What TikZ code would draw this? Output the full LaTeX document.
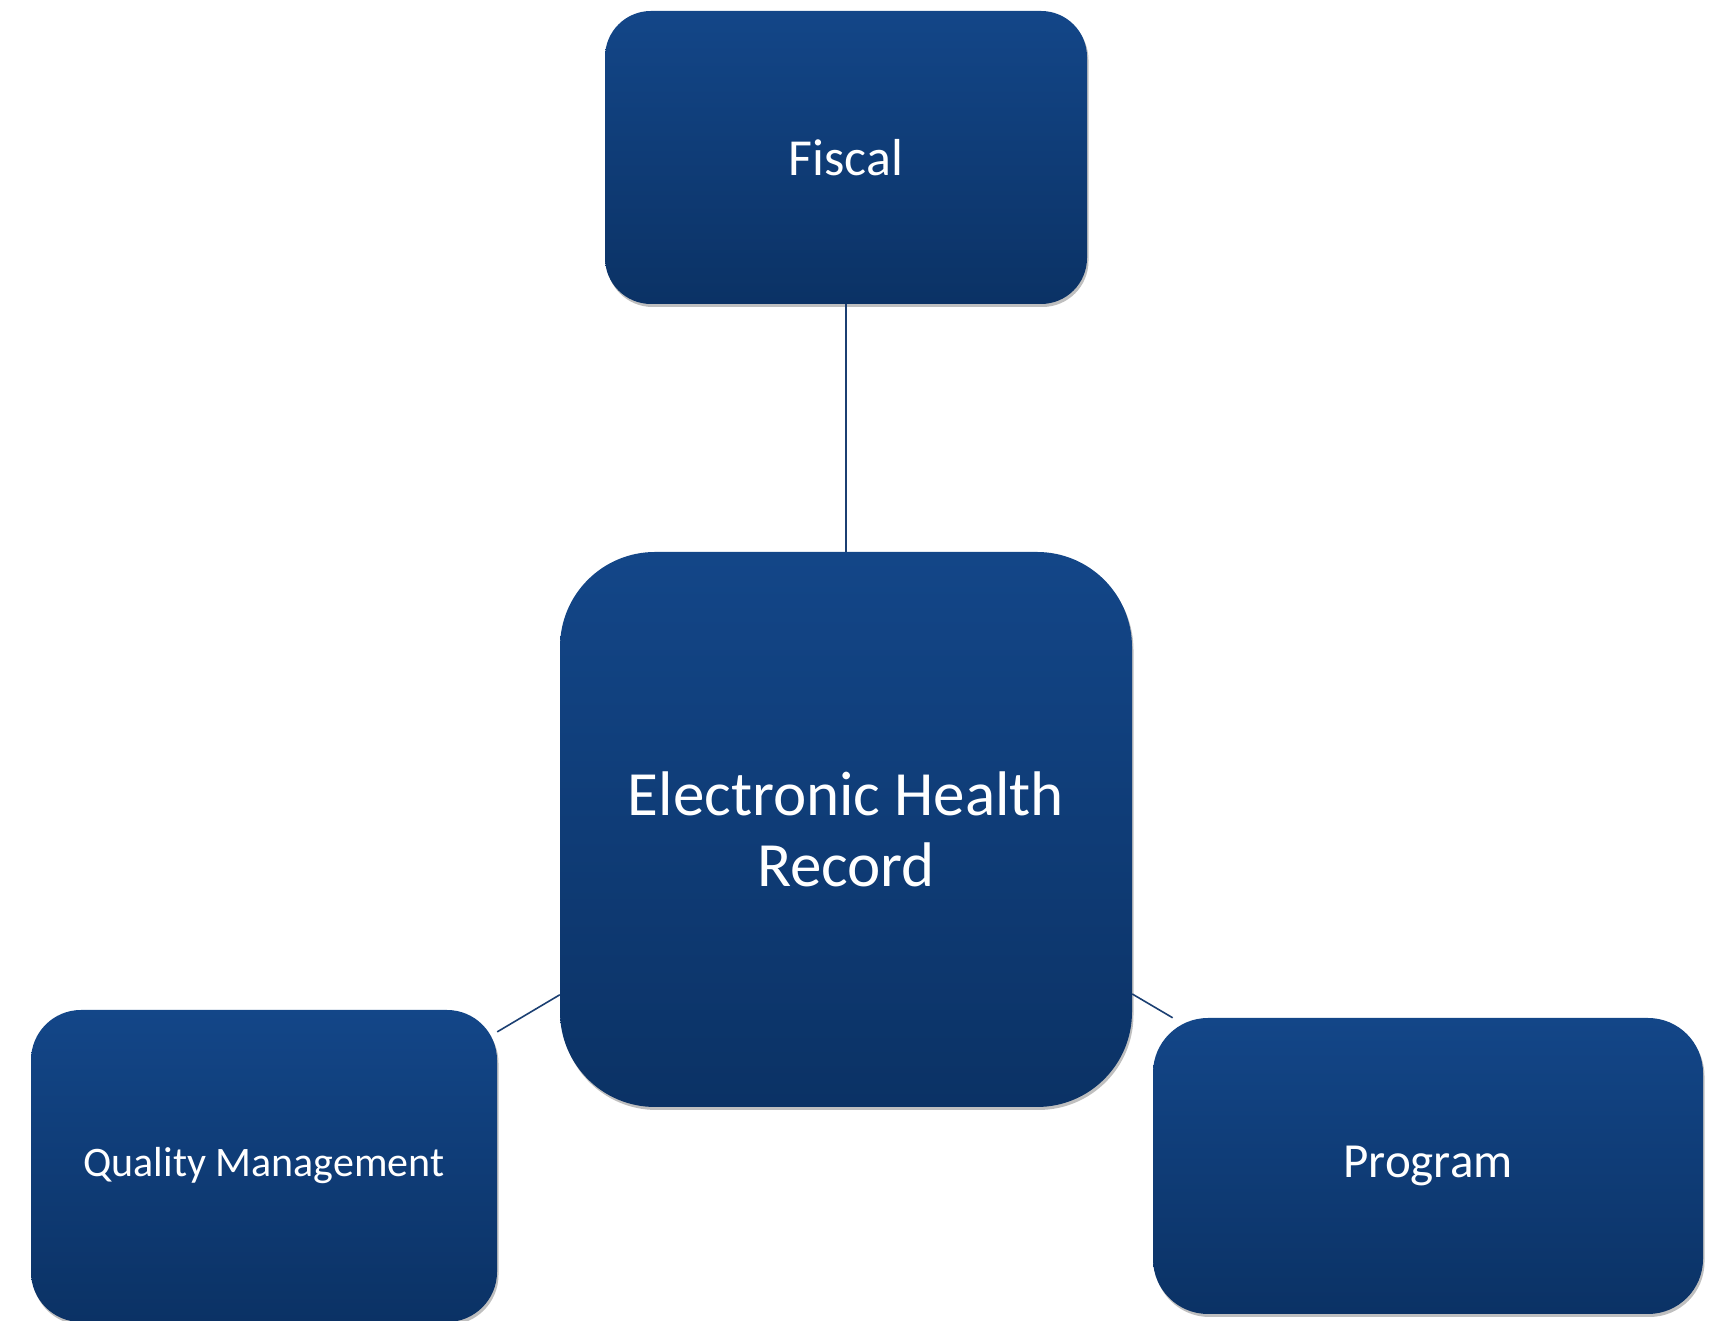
\documentclass[tikz,border=0pt]{standalone}
\usepackage{fontspec}
\setmainfont{Carlito}
\usetikzlibrary{shadows}
\definecolor{boxtop}{HTML}{134688}
\definecolor{boxbot}{HTML}{0B3265}
\definecolor{linkblue}{HTML}{1B3F72}
\begin{document}
\begin{tikzpicture}[x=1pt,y=1pt,
  topicbox/.style={rectangle, rounded corners=#1, inner sep=0pt,
    top color=boxtop, bottom color=boxbot, text=white, align=center,
    drop shadow={shadow xshift=1.5pt, shadow yshift=-3pt, opacity=0.25, fill=black}},
  link/.style={draw=linkblue, line width=1.6pt}]
\useasboundingbox (0,0) rectangle (1722,1321);

% central record and the three areas around it
\node[topicbox=95pt, minimum width=572pt, minimum height=555pt,
      font=\fontsize{63}{71}\selectfont] (ehr) at (846,491.5)
      {Electronic Health\\Record};
\node[topicbox=46pt, minimum width=482pt, minimum height=293pt,
      font=\fontsize{52}{60}\selectfont] (fiscal) at (846,1163.5) {Fiscal};
\node[topicbox=50pt, minimum width=466pt, minimum height=312pt,
      font=\fontsize{42}{50}\selectfont] (qm) at (264,155)
      {\raisebox{-4pt}{Quality Management}};
\node[topicbox=55pt, minimum width=550pt, minimum height=296pt,
      font=\fontsize{49}{57}\selectfont] (prog) at (1428,155)
      {\raisebox{-4pt}{Program}};

% connectors
\draw[link] (fiscal) -- (ehr);
\draw[link] (ehr) -- (qm);
\draw[link] (ehr) -- (prog);
\end{tikzpicture}
\end{document}
